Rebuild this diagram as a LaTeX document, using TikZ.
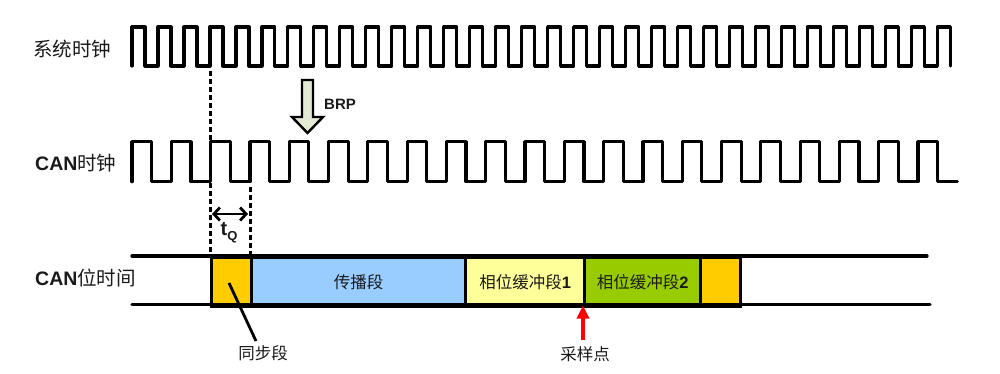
\documentclass[tikz,border=0pt]{standalone}
\usepackage{fontspec}
\setmainfont{Liberation Sans}
\newfontfamily\cjk{Noto Sans CJK SC}
\usetikzlibrary{arrows.meta}
\definecolor{txt}{HTML}{1A1A1A}
\definecolor{syncc}{HTML}{FFCC00}
\definecolor{propc}{HTML}{99CCFF}
\definecolor{ph1c}{HTML}{FFFF99}
\definecolor{ph2c}{HTML}{99CC00}
\definecolor{brpc}{HTML}{E3EAD3}
\begin{document}
\begin{tikzpicture}[x=1pt,y=-1pt,
  clk/.style={line width=3.2pt, line join=round, line cap=round},
  lab/.style={font=\fontsize{19.5}{22}\selectfont, text=txt, inner sep=0pt, anchor=west},
  seglab/.style={font=\fontsize{16.5}{19}\selectfont, text=txt, inner sep=0pt},
  segbox/.style={draw=black, line width=3.2pt, inner sep=0pt, anchor=north west, minimum height=48.5pt},
  dashline/.style={line width=3pt, dash pattern=on 5pt off 3pt},
  baseline/.style={line width=3.2pt, line cap=round}
]
\useasboundingbox (0,0) rectangle (1000,374);

% labels on the left
\node[lab] (lsys) at (33,49) {\cjk 系统时钟};
\node[lab] (lcan) at (35,163) {{\bfseries CAN}{\cjk 时钟}};
\node[lab] (lbit) at (35,278) {{\bfseries CAN}{\cjk 位时间}};

% system clock
\draw[clk] (132,66) \foreach \i in {1,...,31}{ -- ++(0,-39) -- ++(12.99,0) -- ++(0,39) -- ++(12.99,0)}
   -- ++(0,-39) -- ++(12.99,0) -- ++(0,39);

% CAN clock
\draw[clk] (132,181.7) \foreach \i in {1,...,21}{ -- ++(0,-40) -- ++(19.65,0) -- ++(0,40) -- ++(19.65,0)};

% BRP block arrow
\draw[line width=2.4pt, line join=miter, fill=brpc]
  (302,80) -- (313,80) -- (313,117) -- (323,117) -- (307.5,133) -- (292,117) -- (302,117) -- cycle;
\node[font=\fontsize{15}{17}\selectfont\bfseries, text=txt, inner sep=0pt, anchor=west] (brp) at (324,104) {BRP};

% bit time segments
\node[segbox, fill=syncc, minimum width=40pt] (sync1) at (210,256) {};
\node[segbox, fill=propc, minimum width=214pt] (prop) at (250,256) {};
\node[segbox, fill=ph1c, minimum width=119pt] (ph1) at (464,256) {};
\node[segbox, fill=ph2c, minimum width=116pt] (ph2) at (583,256) {};
\node[segbox, fill=syncc, minimum width=40pt] (sync2) at (699,256) {};

\coordinate (tl) at (132,256);
\coordinate (tr) at (927,256);
\coordinate (bl) at (132,304.5);
\coordinate (br) at (930,304.5);
\draw[baseline] (tl) -- (tr);
\draw[baseline] (bl) -- (br);

\node[seglab] (tprop) at (prop.center) {\cjk 传播段};
\node[seglab] (tph1) at (ph1.center) {{\cjk 相位缓冲段}\textbf{1}};
\node[seglab] (tph2) at (ph2.center) {{\cjk 相位缓冲段}\textbf{2}};

% dashed guide lines
\coordinate (d1a) at (210,71);
\coordinate (d1b) at (210,256);
\coordinate (d2a) at (250,187);
\coordinate (d2b) at (250,256);
\draw[dashline] (d1a) -- (d1b);
\draw[dashline] (d2a) -- (d2b);

% tQ arrow
\coordinate (q1) at (212,214);
\coordinate (q2) at (248,214);
\draw[line width=2.8pt, {Straight Barb[length=6pt,width=13pt,line width=2.8pt]}-{Straight Barb[length=6pt,width=13pt,line width=2.8pt]}] (q1) -- (q2);
\node[font=\fontsize{20}{22}\selectfont\bfseries, text=txt, inner sep=0pt] (tq) at (229,233) {t\raisebox{-0.25em}{\fontsize{13}{14}\selectfont Q}};

% sync segment pointer
\coordinate (p1) at (229,283);
\node[seglab] (lsync) at (263,353) {\cjk 同步段};
\coordinate (p2) at (256,341);
\draw[line width=2.8pt] (p1) -- (p2);

% sample point arrow
\coordinate (s1) at (583,340);
\coordinate (s2) at (583,305.5);
\draw[red, line width=3.2pt, -{Triangle[length=13pt,width=12pt]}] (s1) -- (s2);
\node[seglab] (lsample) at (585,354) {\cjk 采样点};
\end{tikzpicture}
\end{document}
